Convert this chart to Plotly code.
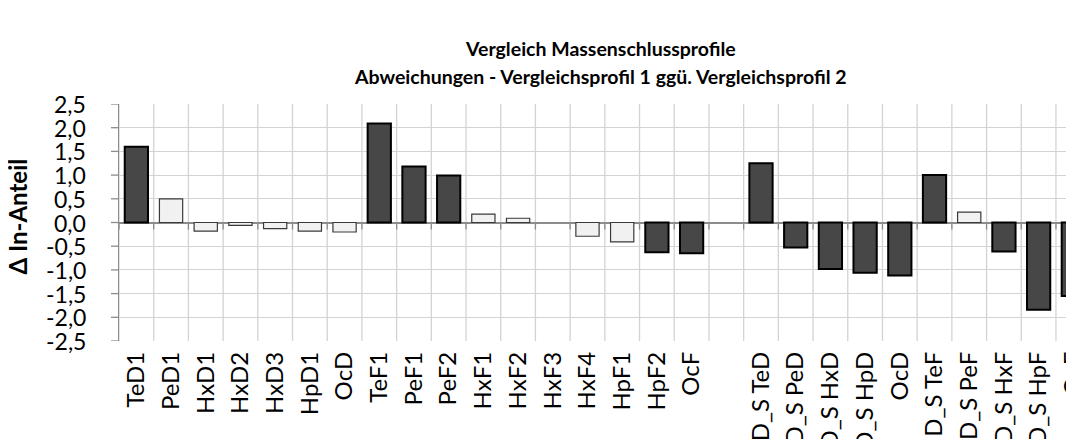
import plotly.graph_objects as go

categories = ["TeD1", "PeD1", "HxD1", "HxD2", "HxD3", "HpD1", "OcD", "TeF1", "PeF1", "PeF2",
              "HxF1", "HxF2", "HxF3", "HxF4", "HpF1", "HpF2", "OcF", "",
              "D_S TeD", "D_S PeD", "D_S HxD", "D_S HpD", "OcD",
              "D_S TeF", "D_S PeF", "D_S HxF", "D_S HpF", "OcF"]
values = [1.60, 0.50, -0.18, -0.06, -0.13, -0.18, -0.20, 2.09, 1.18, 0.99,
          0.175, 0.09, 0.0, -0.29, -0.41, -0.63, -0.65, None,
          1.25, -0.53, -0.98, -1.06, -1.12,
          1.00, 0.22, -0.61, -1.84, -1.55]
significant = [True, False, False, False, False, False, False, True, True, True,
               False, False, False, False, False, True, True, False,
               True, True, True, True, True,
               True, False, True, True, True]

title_lines = ["Vergleich Massenschlussprofile",
               "Abweichungen - Vergleichsprofil 1 ggü. Vergleichsprofil 2"]
y_title = "Δ In-Anteil"
y_ticks = [-2.5, -2.0, -1.5, -1.0, -0.5, 0.0, 0.5, 1.0, 1.5, 2.0, 2.5]
y_tick_labels = ["-2,5", "-2,0", "-1,5", "-1,0", "-0,5", "0,0", "0,5", "1,0", "1,5", "2,0", "2,5"]

DARK = "#474747"
LIGHT = "#f0f1f0"
FONT = "Lato"
PLOT_W = 1074 - 111

xs = list(range(len(categories)))
fill = [DARK if s else LIGHT for s in significant]
edge = ["#000000" if s else "#3a3a3a" for s in significant]
edge_w = [0 if (v is None or v == 0) else (2 if s else 1.2) for v, s in zip(values, significant)]

fig = go.Figure()
fig.add_trace(go.Bar(
    x=xs, y=values, width=0.67,
    marker=dict(color=fill, line=dict(color=edge, width=edge_w)),
    showlegend=False, hoverinfo="skip",
))

shapes = []
for i in range(len(categories) + 1):
    b = i - 0.5
    shapes.append(dict(type="line", xref="x", yref="paper", x0=b, x1=b, y0=0, y1=1,
                       line=dict(color="#d3d3d3", width=1.3), layer="below"))
    shapes.append(dict(type="line", xref="x", yref="y", x0=b, x1=b, y0=0, y1=-0.15,
                       line=dict(color="#8c8c8c", width=1.3), layer="below"))
for t in y_ticks:
    shapes.append(dict(type="line", xref="paper", yref="y", x0=-8 / PLOT_W, x1=0, y0=t, y1=t,
                       line=dict(color="#8c8c8c", width=1.3), layer="above"))

annotations = [
    dict(text="<b>" + title_lines[0] + "</b>", xref="paper", yref="paper",
         x=0.5, y=1, yshift=56, xanchor="center", yanchor="middle", showarrow=False,
         font=dict(family=FONT, size=19.5, color="#000")),
    dict(text="<b>" + title_lines[1] + "</b>", xref="paper", yref="paper",
         x=0.5, y=1, yshift=28, xanchor="center", yanchor="middle", showarrow=False,
         font=dict(family=FONT, size=19.5, color="#000")),
    dict(text="<b>" + y_title + "</b>", xref="paper", yref="paper",
         x=-0.0924, y=0.5, xshift=-13, yshift=6, xanchor="center", yanchor="middle",
         textangle=-90, showarrow=False, font=dict(family=FONT, size=24, color="#000")),
]
for t, lab in zip(y_ticks, y_tick_labels):
    annotations.append(dict(text=lab, xref="paper", yref="y", x=-32 / PLOT_W, y=t,
                            xanchor="right", yanchor="middle", showarrow=False,
                            borderpad=0, font=dict(family=FONT, size=23, color="#000")))

fig.update_layout(
    width=1074, height=439,
    margin=dict(l=111, r=0, t=96, b=106, autoexpand=False),
    plot_bgcolor="white", paper_bgcolor="white",
    shapes=shapes,
    annotations=annotations,
    font=dict(family=FONT, size=23, color="#000"),
    xaxis=dict(
        range=[-0.5, 27.25], tickmode="array", tickvals=xs, ticktext=categories,
        tickangle=-90, showgrid=False, zeroline=False, showline=False,
        ticks="", ticklabelstandoff=5, ticklabeloverflow="allow", automargin=False,
        tickfont=dict(family=FONT, size=24, color="#000"),
    ),
    yaxis=dict(
        range=[-2.5, 2.5], tickmode="array", tickvals=y_ticks, showticklabels=False,
        showgrid=True, gridcolor="#d3d3d3", gridwidth=1.3,
        zeroline=True, zerolinecolor="#8c8c8c", zerolinewidth=2,
        showline=True, linecolor="#8c8c8c", linewidth=1.3,
        ticks="", automargin=False,
    ),
)

fig.write_html("out.html")
